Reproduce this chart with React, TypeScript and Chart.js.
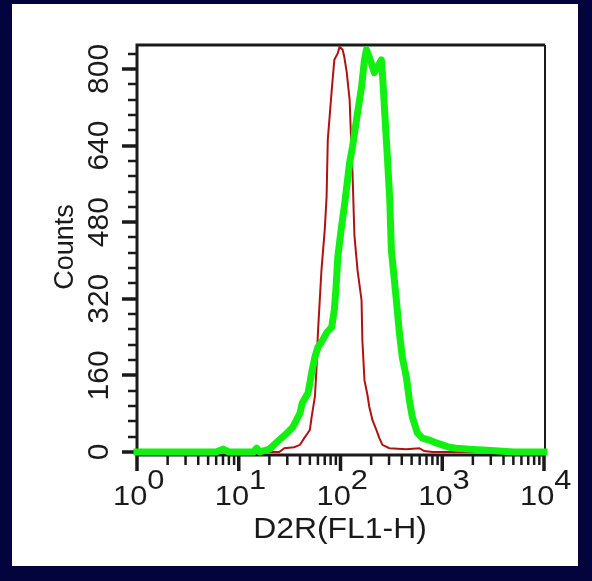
import React, { useEffect, useRef } from 'react';
import { Chart, registerables } from 'chart.js';

Chart.register(...registerables);

// ---- data ----
const redX = [1, 25, 28, 35, 40, 44, 50, 52, 56, 58, 60, 65, 70, 73, 75, 82, 87, 94, 98, 105, 109, 115, 123, 128, 131, 137, 147, 161, 164, 172, 184, 192, 206, 225, 241, 258, 302, 443, 595, 666, 800, 10000];
const redY = [0, 0, 8, 10, 15, 29, 46, 73, 115, 171, 249, 380, 464, 533, 652, 756, 819, 833, 846, 840, 825, 794, 735, 635, 589, 453, 380, 317, 234, 150, 119, 94, 67, 46, 29, 15, 8, 6, 8, 2, 0, 0];

const greenX = [1, 6, 7, 8, 14, 15, 16, 20, 25, 30, 34, 40, 42, 48, 52, 56, 60, 67, 73, 82, 87, 91, 94, 102, 109, 123, 131, 147, 161, 172, 180, 192, 201, 215, 231, 252, 258, 270, 289, 305, 316, 354, 379, 405, 443, 475, 508, 569, 637, 746, 874, 1000, 1171, 1372, 1841, 2466, 3600, 5000, 5500, 10000];
const greenY = [0, 0, 6, 0, 0, 8, 0, 6, 25, 40, 52, 81, 102, 123, 165, 198, 219, 234, 249, 261, 297, 353, 407, 468, 512, 604, 637, 708, 762, 819, 840, 825, 812, 792, 804, 819, 792, 721, 616, 526, 422, 317, 249, 198, 157, 109, 73, 40, 29, 25, 19, 15, 10, 8, 6, 4, 2, 0, 0, 0];

const yMajorTicks = [0, 160, 320, 480, 640, 800];
const yMinorStep = 32;
const yMax = 850;
const xDecades = [0, 1, 2, 3, 4];
const xTitle = 'D2R(FL1-H)';
const yTitle = 'Counts';

const W = 592;
const H = 581;
const NAVY = '#03033d';
const INK = '#1a1a1a';
const FONT = '"Liberation Sans", Arial, Helvetica, sans-serif';

const framePlugin = {
  id: 'framePlugin',
  beforeDraw(chart: any) {
    const ctx = chart.ctx;
    ctx.save();
    ctx.fillStyle = NAVY;
    ctx.fillRect(0, 0, W, H);
    ctx.fillStyle = '#ffffff';
    ctx.fillRect(12, 4, 566, 562);
    ctx.restore();
  },
  beforeDatasetsDraw(chart: any) {
    const ctx = chart.ctx;
    const xs = chart.scales.x;
    const ys = chart.scales.y;
    const { left, right, top, bottom } = chart.chartArea;
    const axisY = bottom + 3;
    ctx.save();
    ctx.strokeStyle = INK;
    ctx.lineCap = 'butt';
    // box
    ctx.lineWidth = 3;
    ctx.beginPath();
    ctx.moveTo(left, axisY);
    ctx.lineTo(left, top);
    ctx.lineTo(right + 1, top);
    ctx.stroke();
    ctx.lineWidth = 2;
    ctx.beginPath();
    ctx.moveTo(right + 1, top);
    ctx.lineTo(right + 1, axisY);
    ctx.stroke();
    ctx.lineWidth = 3;
    ctx.beginPath();
    ctx.moveTo(left, axisY);
    ctx.lineTo(right + 1, axisY);
    ctx.stroke();

    // y ticks
    for (let v = 0; v <= yMax; v += yMinorStep) {
      const py = Math.round(ys.getPixelForValue(v));
      const major = yMajorTicks.includes(v);
      ctx.lineWidth = major ? 3.5 : 2.5;
      ctx.beginPath();
      ctx.moveTo(left, py);
      ctx.lineTo(left - (major ? 15 : 9), py);
      ctx.stroke();
    }
    // x ticks
    for (let d = 0; d < xDecades.length; d++) {
      const dec = Math.pow(10, xDecades[d]);
      const px = xs.getPixelForValue(dec);
      ctx.lineWidth = 3.5;
      ctx.beginPath();
      ctx.moveTo(px, axisY);
      ctx.lineTo(px, axisY + 16);
      ctx.stroke();
      if (d < xDecades.length - 1) {
        for (let m = 2; m <= 9; m++) {
          const mx = xs.getPixelForValue(dec * m);
          ctx.lineWidth = 2.5;
          ctx.beginPath();
          ctx.moveTo(mx, axisY);
          ctx.lineTo(mx, axisY + 10);
          ctx.stroke();
        }
      }
    }

    // y tick labels (rotated)
    ctx.fillStyle = INK;
    ctx.font = `30px ${FONT}`;
    ctx.textAlign = 'center';
    ctx.textBaseline = 'middle';
    for (const v of yMajorTicks) {
      const py = ys.getPixelForValue(v);
      ctx.save();
      ctx.translate(98, py);
      ctx.rotate(-Math.PI / 2);
      ctx.fillText(String(v), 0, 2);
      ctx.restore();
    }
    // y title
    ctx.font = `27px ${FONT}`;
    ctx.save();
    ctx.translate(64, 247);
    ctx.rotate(-Math.PI / 2);
    ctx.fillText(yTitle, 0, 2);
    ctx.restore();

    // x tick labels: 10 with superscript exponent
    ctx.textAlign = 'left';
    ctx.textBaseline = 'alphabetic';
    const sx = 1.1;
    for (const e of xDecades) {
      const px = xs.getPixelForValue(Math.pow(10, e));
      ctx.save();
      ctx.translate(px - 24, 505);
      ctx.scale(sx, 1);
      ctx.font = `28px ${FONT}`;
      ctx.fillText('10', 0, 0);
      const w = ctx.measureText('10').width;
      ctx.fillText(String(e), w, -16);
      ctx.restore();
    }
    // x title
    ctx.save();
    ctx.translate(340, 538);
    ctx.scale(sx, 1);
    ctx.font = `29px ${FONT}`;
    ctx.textAlign = 'center';
    ctx.fillText(xTitle, 0, 0);
    ctx.restore();

    ctx.restore();
  },
};

export default function App() {
  const ref = useRef<HTMLCanvasElement | null>(null);
  useEffect(() => {
    if (!ref.current) return;
    const chart = new Chart(ref.current, {
      type: 'line',
      data: {
        datasets: [
          {
            label: 'D2R',
            data: greenX.map((x, i) => ({ x, y: greenY[i] })),
            borderColor: '#12f012',
            borderWidth: 7,
            pointRadius: 0,
            tension: 0,
            fill: false,
            clip: false as any,
            borderCapStyle: 'square',
            borderJoinStyle: 'round',
          },
          {
            label: 'Isotype',
            data: redX.map((x, i) => ({ x, y: redY[i] })),
            borderColor: '#b01212',
            borderWidth: 2,
            pointRadius: 0,
            tension: 0,
            fill: false,
            clip: false as any,
          },
        ],
      },
      options: {
        responsive: false,
        animation: false,
        devicePixelRatio: 1,
        layout: { padding: { left: 137, top: 45, right: W - 544, bottom: H - 452 } },
        plugins: { legend: { display: false }, tooltip: { enabled: false } },
        scales: {
          x: { type: 'logarithmic', min: 1, max: 10000, display: false },
          y: { type: 'linear', min: 0, max: yMax, display: false },
        },
      },
      plugins: [framePlugin],
    });
    return () => chart.destroy();
  }, []);
  return (
    <canvas
      ref={ref}
      width={W}
      height={H}
      style={{ position: 'fixed', left: 0, top: 0, width: W, height: H, display: 'block' }}
    />
  );
}
